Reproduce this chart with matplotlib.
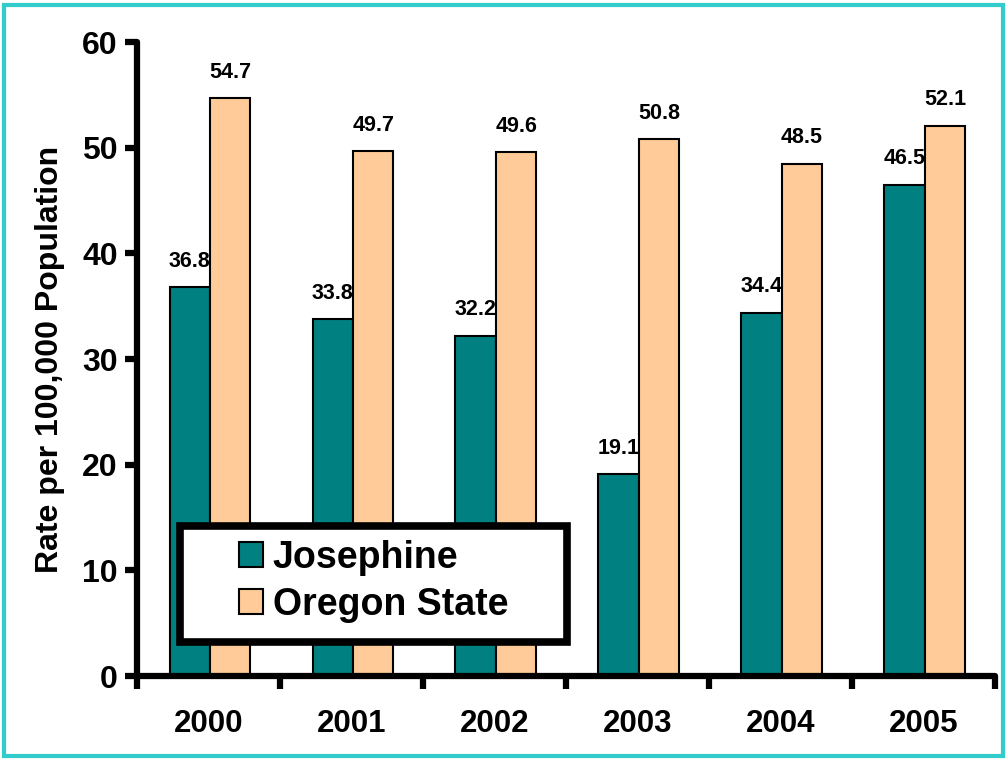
import numpy as np
import matplotlib.pyplot as plt
import matplotlib.patches as mpatches

TEAL = '#008080'
PEACH = '#FFCC99'
BORDER = '#33CCCC'

years = ['2000', '2001', '2002', '2003', '2004', '2005']
josephine = [36.8, 33.8, 32.2, 19.1, 34.4, 46.5]
oregon = [54.7, 49.7, 49.6, 50.8, 48.5, 52.1]

plt.rcParams['font.family'] = ['Liberation Sans', 'DejaVu Sans']
plt.rcParams['font.weight'] = 'bold'

fig = plt.figure(figsize=(10.08, 7.6), dpi=100)
ax = fig.add_axes([0.136, 0.1105, 0.851, 0.8342])

idx = np.arange(len(years))
width = 0.283
p1 = ax.bar(idx - width / 2 + 0.01, josephine, width, color=TEAL, edgecolor='black', linewidth=1.5)
p2 = ax.bar(idx + width / 2 + 0.01, oregon, width, color=PEACH, edgecolor='black', linewidth=1.5)

for x, v in zip(idx - width / 2 + 0.01, josephine):
    ax.annotate('{:.1f}'.format(v), (x, v), xytext=(0, 11), textcoords='offset points',
                ha='center', va='bottom', fontsize=15.5, fontweight='bold')
for x, v in zip(idx + width / 2 + 0.01, oregon):
    ax.annotate('{:.1f}'.format(v), (x, v), xytext=(0, 11), textcoords='offset points',
                ha='center', va='bottom', fontsize=15.5, fontweight='bold')

ax.set_xlim(-0.5, len(years) - 0.5)
ax.set_ylim(0, 60)
ax.set_yticks(np.arange(0, 61, 10))
ax.set_yticklabels([str(t) for t in range(0, 61, 10)], fontsize=23, fontweight='bold')

# category boundaries carry the tick marks, labels sit on minor ticks
ax.set_xticks(np.arange(-0.5, len(years), 1.0))
ax.set_xticklabels([])
ax.set_xticks(idx, minor=True)
ax.set_xticklabels(years, minor=True, fontsize=22.5, fontweight='bold')
ax.tick_params(axis='x', which='major', direction='out', length=9, width=4.5)
ax.tick_params(axis='x', which='minor', length=0, pad=24)
ax.tick_params(axis='y', direction='out', length=9, width=4.5, pad=5)

for side in ['top', 'right']:
    ax.spines[side].set_visible(False)
for side in ['left', 'bottom']:
    ax.spines[side].set_linewidth(4.5)
    ax.spines[side].set_capstyle('round')

ax.set_ylabel('Rate per 100,000 Population', fontsize=23, fontweight='bold', labelpad=12)

# legend box drawn by hand so it can be wider than its content
box = mpatches.Rectangle((0.1786, 0.1553), 0.384, 0.1526, transform=fig.transFigure,
                         facecolor='white', edgecolor='black', linewidth=5.5, zorder=3)
fig.patches.append(box)

handles = [mpatches.Patch(facecolor=TEAL, edgecolor='black', linewidth=1.5, label='Josephine'),
           mpatches.Patch(facecolor=PEACH, edgecolor='black', linewidth=1.5, label='Oregon State')]
leg = fig.legend(handles=handles, loc='center', bbox_to_anchor=(0.3706, 0.235),
                 prop={'weight': 'bold', 'size': 27}, frameon=False,
                 handlelength=0.64, handleheight=0.64, handletextpad=0.27,
                 labelspacing=0.3, borderpad=0, borderaxespad=0)

fig.patches.append(mpatches.Rectangle((0.004, 0.005), 0.991, 0.988, transform=fig.transFigure,
                                      fill=False, edgecolor=BORDER, linewidth=3))

plt.savefig('out.png', dpi=100)
